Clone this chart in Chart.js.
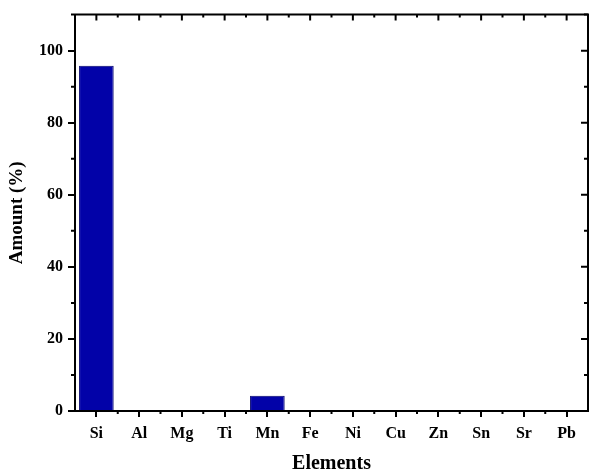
<!DOCTYPE html>
<html>
<head>
<meta charset="utf-8">
<script src="https://cdn.jsdelivr.net/npm/chart.js@4/dist/chart.umd.min.js"></script>
<style>
  html, body { margin: 0; padding: 0; background: #fff; }
</style>
</head>
<body>
<canvas id="myChart" width="590" height="471"></canvas>
<script>
// data
const elements = ['Si', 'Al', 'Mg', 'Ti', 'Mn', 'Fe', 'Ni', 'Cu', 'Zn', 'Sn', 'Sr', 'Pb'];
const amounts = [95.8, 0, 0, 0, 4.2, 0, 0, 0, 0, 0, 0, 0];
const yTicks = [0, 20, 40, 60, 80, 100];
const yMinorTicks = [10, 30, 50, 70, 90, 110];

const serif = "'Liberation Serif', 'Times New Roman', serif";

// draws the closed frame, inward ticks on top/right and minor ticks
const framePlugin = {
    id: 'frame',
    afterDraw(chart) {
        const ctx = chart.ctx;
        const a = chart.chartArea;
        const x = chart.scales.x;
        const y = chart.scales.y;
        ctx.save();
        ctx.strokeStyle = '#000';
        ctx.lineWidth = 2;
        ctx.beginPath();
        ctx.moveTo(a.left, a.top);
        ctx.lineTo(a.right, a.top);
        ctx.lineTo(a.right, a.bottom);
        ctx.stroke();

        ctx.beginPath();
        elements.forEach((el, i) => {
            const px = x.getPixelForValue(i);
            ctx.moveTo(px, a.top);
            ctx.lineTo(px, a.top + 6);
            // minor ticks between categories
            if (i > 0) {
                const mx = (px + x.getPixelForValue(i - 1)) / 2;
                ctx.moveTo(mx, a.top);
                ctx.lineTo(mx, a.top + 3);
                ctx.moveTo(mx, a.bottom);
                ctx.lineTo(mx, a.bottom + 3);
            }
        });
        yTicks.forEach(v => {
            const py = y.getPixelForValue(v);
            ctx.moveTo(a.right, py);
            ctx.lineTo(a.right - 7, py);
        });
        yMinorTicks.forEach(v => {
            const py = y.getPixelForValue(v);
            ctx.moveTo(a.right, py);
            ctx.lineTo(a.right - 4, py);
            ctx.moveTo(a.left, py);
            ctx.lineTo(a.left - 4, py);
        });
        ctx.stroke();
        ctx.restore();
    }
};

new Chart(document.getElementById('myChart'), {
    type: 'bar',
    data: {
        labels: elements,
        datasets: [{
            label: 'Amount',
            data: amounts,
            backgroundColor: '#0202a8',
            borderColor: '#00006a',
            borderWidth: 1,
            barPercentage: 0.81,
            categoryPercentage: 1
        }]
    },
    options: {
        responsive: false,
        animation: false,
        layout: { padding: { top: 12, right: 2, left: 0, bottom: 0 } },
        plugins: {
            legend: { display: false },
            tooltip: { enabled: false }
        },
        scales: {
            x: {
                grid: {
                    offset: false,
                    drawOnChartArea: false,
                    tickLength: 6,
                    lineWidth: 2,
                    color: '#000'
                },
                border: { color: '#000', width: 2 },
                ticks: {
                    color: '#000',
                    padding: 7,
                    maxRotation: 0,
                    autoSkip: false,
                    font: { family: serif, size: 16, weight: 'bold' }
                },
                title: {
                    display: true,
                    text: 'Elements',
                    color: '#000',
                    padding: { top: 0, bottom: 0 },
                    font: { family: serif, size: 20, weight: 'bold', lineHeight: 0.7 }
                },
                afterFit(s) { s.height = 60; }
            },
            y: {
                min: 0,
                max: 110,
                grid: {
                    drawOnChartArea: false,
                    tickLength: 7,
                    lineWidth: 2,
                    color: '#000'
                },
                border: { color: '#000', width: 2 },
                ticks: {
                    color: '#000',
                    padding: 5,
                    font: { family: serif, size: 16, weight: 'bold' }
                },
                afterBuildTicks(s) { s.ticks = yTicks.map(v => ({ value: v })); },
                title: {
                    display: true,
                    text: 'Amount (%)',
                    color: '#000',
                    padding: { top: 8, bottom: 0 },
                    font: { family: serif, size: 19, weight: 'bold', lineHeight: 1 }
                },
                afterFit(s) { s.width = 75; }
            }
        }
    },
    plugins: [framePlugin]
});
</script>
</body>
</html>
